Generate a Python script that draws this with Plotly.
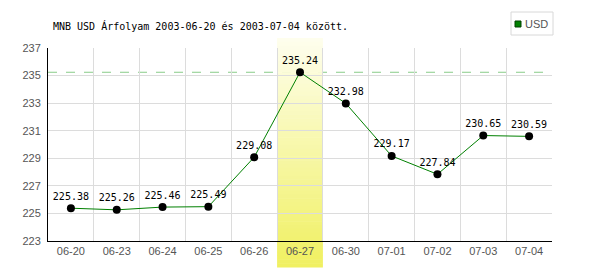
import plotly.graph_objects as go

dates = ["06-20", "06-23", "06-24", "06-25", "06-26", "06-27",
         "06-30", "07-01", "07-02", "07-03", "07-04"]
usd = [225.38, 225.26, 225.46, 225.49, 229.08, 235.24,
       232.98, 229.17, 227.84, 230.65, 230.59]
y_ticks = [223, 225, 227, 229, 231, 233, 235, 237]
highlight = "06-27"
title_text = "MNB USD Árfolyam 2003-06-20 és 2003-07-04 között."

W, H = 600, 270
ML, MR, MT, MB = 48, 48, 48, 29
plot_h = H - MT - MB

fig = go.Figure()

fig.add_trace(go.Scatter(
    x=dates, y=usd, mode="lines+markers+text",
    line=dict(color="#008000", width=1),
    marker=dict(color="#000000", size=8),
    text=[f"{v:.2f}" for v in usd],
    textposition="top center",
    textfont=dict(family="DejaVu Sans Mono", size=10, color="#000000"),
    showlegend=False, cliponaxis=False,
))

shapes = []
# dashed line at the maximum
shapes.append(dict(type="line", xref="paper", yref="y", x0=0, x1=1,
                   y0=max(usd), y1=max(usd), layer="between",
                   line=dict(color="#88cc88", width=1, dash="dash")))

# gradient band behind the highlighted category
hi = dates.index(highlight)
top_px, bot_px = 38, 267
n = 60
c0 = (254, 254, 238)
c1 = (240, 240, 96)
for i in range(n):
    t = (i + 0.5) / n
    ya = top_px + (bot_px - top_px) * i / n
    yb = top_px + (bot_px - top_px) * (i + 1) / n + 0.5
    col = tuple(round(c0[k] + (c1[k] - c0[k]) * t) for k in range(3))
    shapes.append(dict(type="rect", xref="x", yref="paper",
                       x0=hi - 0.5, x1=hi + 0.5,
                       y0=(H - MB - yb) / plot_h, y1=(H - MB - ya) / plot_h,
                       layer="between", line=dict(width=0),
                       fillcolor="rgb(%d,%d,%d)" % col))

# legend box
def px_x(x):
    return (x - ML) / (W - ML - MR)

def px_y(y):
    return (H - MB - y) / plot_h

shapes.append(dict(type="rect", xref="paper", yref="paper",
                   x0=px_x(511), x1=px_x(553), y0=px_y(35), y1=px_y(12),
                   line=dict(color="#d8d8d8", width=1), fillcolor="#ffffff"))
shapes.append(dict(type="rect", xref="paper", yref="paper",
                   x0=px_x(515), x1=px_x(521), y0=px_y(27), y1=px_y(21),
                   line=dict(color="#004000", width=1), fillcolor="#008000"))

annotations = [dict(xref="paper", yref="paper", x=px_x(523), y=px_y(24),
                    xanchor="left", yanchor="middle", text="USD", showarrow=False,
                    font=dict(family="Liberation Sans", size=11, color="#555555"))]

fig.update_layout(
    width=W, height=H,
    margin=dict(l=ML, r=MR, t=MT, b=MB, pad=0),
    paper_bgcolor="#ffffff", plot_bgcolor="#ffffff",
    title=dict(text=title_text, x=53 / W, xanchor="left", xref="container",
               y=1 - 26 / H, yanchor="middle", yref="container",
               font=dict(family="DejaVu Sans Mono", size=10, color="#000000")),
    shapes=shapes, annotations=annotations,
    showlegend=False,
    xaxis=dict(type="category", categoryorder="array", categoryarray=dates,
               range=[-0.5, len(dates) - 0.5], tickson="boundaries",
               showgrid=True, gridcolor="#dcdcdc", gridwidth=1,
               showline=True, linecolor="#000000", linewidth=1,
               ticks="", tickfont=dict(family="Liberation Sans", size=11, color="#555555"),
               zeroline=False, fixedrange=True),
    yaxis=dict(range=[223, 237], tickvals=y_ticks,
               showgrid=True, gridcolor="#dcdcdc", gridwidth=1,
               showline=True, linecolor="#000000", linewidth=1,
               ticks="outside", ticklen=4, tickcolor="rgba(0,0,0,0)",
               tickfont=dict(family="Liberation Sans", size=11, color="#555555"),
               zeroline=False, fixedrange=True),
)

fig.write_html("out.html", config={"displayModeBar": False})
